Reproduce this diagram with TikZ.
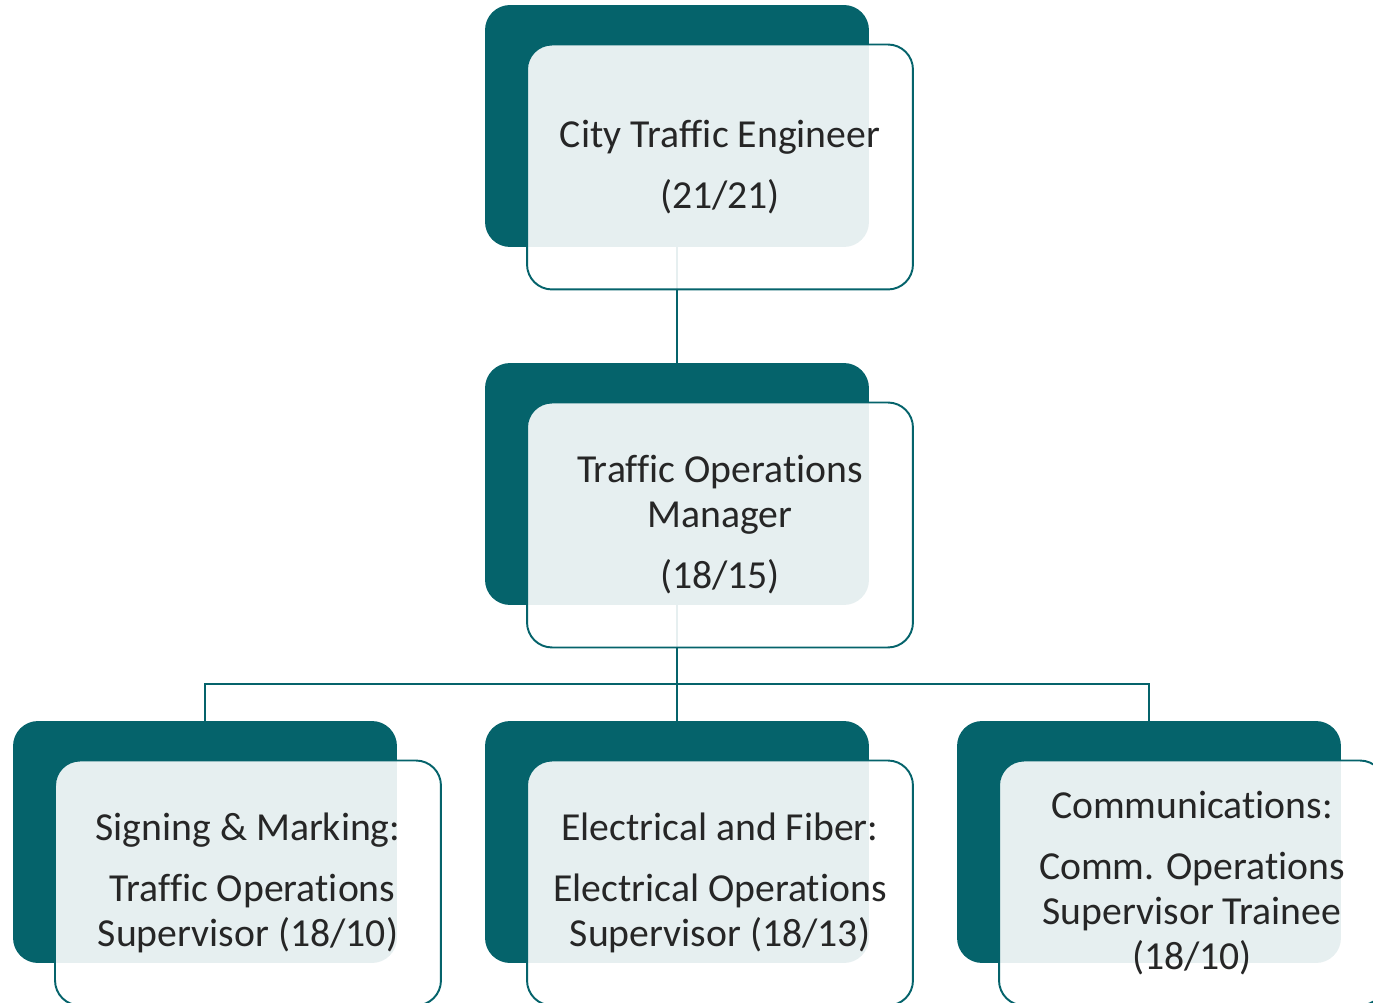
\documentclass[tikz,border=0pt]{standalone}
\usepackage{fontspec}
\setmainfont[Ligatures={NoCommon}]{Carlito}
\usetikzlibrary{positioning}
\definecolor{orgteal}{HTML}{05636B}
\definecolor{orgtext}{HTML}{262626}
\begin{document}
\begin{tikzpicture}[x=0.02cm,y=-0.02cm,
    back/.style={fill=orgteal, rounded corners=0.5cm, minimum width=7.68cm, minimum height=4.84cm, inner sep=0pt, outer sep=0pt},
    front/.style={draw=orgteal, line width=1.1pt, fill=white, fill opacity=0.9, text opacity=1, text=orgtext, rounded corners=0.5cm, minimum width=7.72cm, minimum height=4.9cm, inner sep=0pt, outer sep=0pt, align=center, font=\fontsize{22.6}{25.6}\selectfont},
    link/.style={orgteal, line width=1.1pt}]
\useasboundingbox (0,0) rectangle (1373,1003);
% dark boxes
\node[back] (ceng) at (677,126) {};
\node[back] (mgr)  at (677,484) {};
\node[back] (sign) at (205,842) {};
\node[back] (elec) at (677,842) {};
\node[back] (comm) at (1149,842) {};
% connectors
\draw[link] (ceng.south) -- (mgr.north);
\draw[link] (mgr.south) -- ++(0,-1.58cm) coordinate (hub);
\draw[link] (hub) -| (sign.north);
\draw[link] (hub) -| (comm.north);
\draw[link] (hub) -- (elec.north);
% front boxes
\node[front] (cengtxt) at ([xshift=0.86cm,yshift=-0.82cm]ceng.center)
    {City Traffic Engineer\\[0.32cm](21/21)};
\node[front] (mgrtxt) at ([xshift=0.86cm,yshift=-0.82cm]mgr.center)
    {Traffic Operations\\Manager\\[0.32cm](18/15)};
\node[front] (signtxt) at ([xshift=0.86cm,yshift=-0.82cm]sign.center)
    {Signing \& Marking:\\[0.32cm]\ Traffic Operations\\Supervisor (18/10)};
\node[front] (electxt) at ([xshift=0.86cm,yshift=-0.82cm]elec.center)
    {Electrical and Fiber:\\[0.32cm]Electrical Operations\\Supervisor (18/13)};
\node[front] (commtxt) at ([xshift=0.86cm,yshift=-0.82cm]comm.center)
    {Communications:\\[0.32cm]Comm. Operations\\Supervisor Trainee\\(18/10)};
\end{tikzpicture}
\end{document}
